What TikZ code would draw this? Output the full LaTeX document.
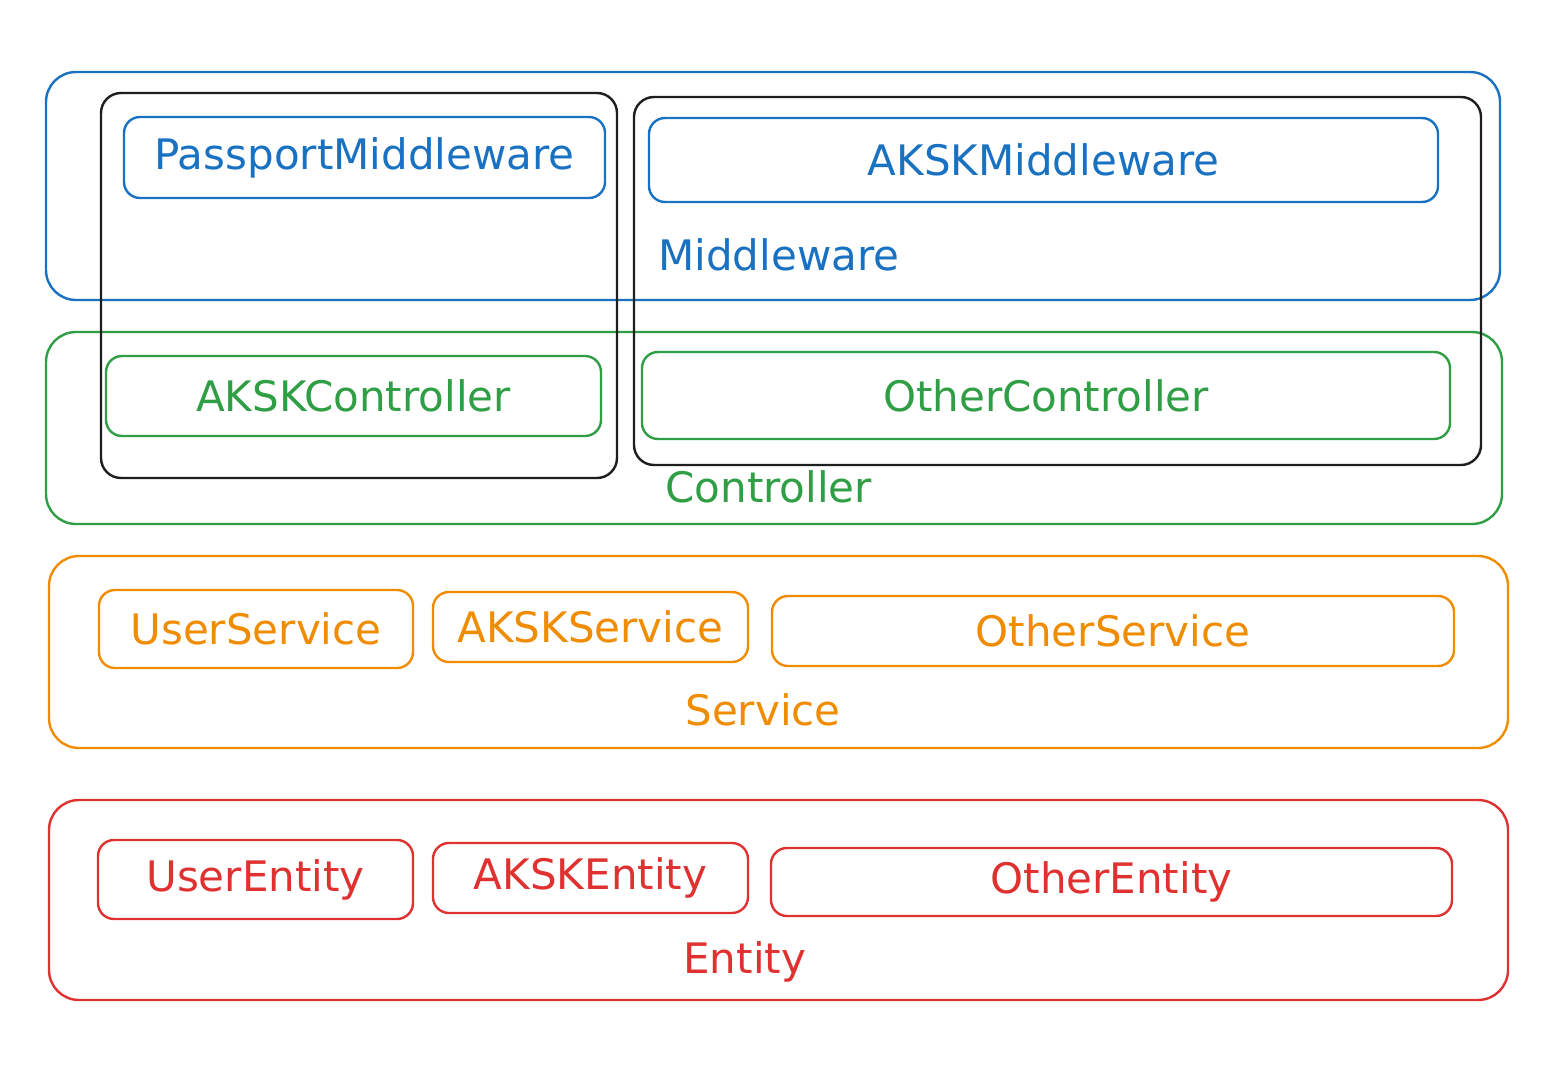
\documentclass[tikz,border=0pt]{standalone}
\usepackage{fontspec}
\setmainfont{DejaVu Sans}
\definecolor{cblue}{HTML}{1971C2}
\definecolor{cgreen}{HTML}{2F9E44}
\definecolor{corange}{HTML}{F08C00}
\definecolor{cred}{HTML}{E03131}
\definecolor{cblack}{HTML}{1E1E1E}
\begin{document}
\begin{tikzpicture}[x=0.5pt,y=-0.5pt,
  outer/.style={draw, line width=1.2pt, rounded corners=15pt, inner sep=0pt},
  frame/.style={draw=cblack, line width=1.2pt, rounded corners=10pt, inner sep=0pt},
  item/.style={draw, line width=1.2pt, rounded corners=8pt, inner sep=0pt, font=\fontsize{21}{24}\selectfont},
  lab/.style={anchor=west, inner sep=0pt, font=\fontsize{21}{24}\selectfont}]
\useasboundingbox[fill=white] (0,0) rectangle (1564,1070);
% Middleware layer
\node[outer, draw=cblue, minimum width=727pt, minimum height=114pt] (mw) at (773,186) {};
\node[lab, text=cblue] (mwlab) at (658,255) {Middleware};
% Controller layer
\node[outer, draw=cgreen, minimum width=728pt, minimum height=96pt] (ctl) at (774,428) {};
\node[lab, text=cgreen] (ctllab) at (665,487) {Controller};
% black groupings
\node[frame, minimum width=258pt, minimum height=192.5pt] (gl) at (359,285.5) {};
\node[frame, minimum width=423.5pt, minimum height=184pt] (gr) at (1057.5,281) {};
% middleware items
\node[item, draw=cblue, text=cblue, minimum width=240.5pt, minimum height=40.5pt] (pm) at (364.5,157.5) {PassportMiddleware};
\node[item, draw=cblue, text=cblue, minimum width=394.5pt, minimum height=42pt] (am) at (1043.5,160) {AKSKMiddleware};
% controller items
\node[item, draw=cgreen, text=cgreen, minimum width=247.5pt, minimum height=40pt] (ac) at (353.5,396) {AKSKController};
\node[item, draw=cgreen, text=cgreen, minimum width=404pt, minimum height=43.5pt] (oc) at (1046,395.5) {OtherController};
% Service layer
\node[outer, draw=corange, minimum width=729.5pt, minimum height=96pt] (svc) at (778.5,652) {};
\node[lab, text=corange] (svclab) at (685,710) {Service};
\node[item, draw=corange, text=corange, minimum width=157pt, minimum height=39pt] (us) at (256,629) {UserService};
\node[item, draw=corange, text=corange, minimum width=157.5pt, minimum height=35pt] (as) at (590.5,627) {AKSKService};
\node[item, draw=corange, text=corange, minimum width=341pt, minimum height=35pt] (os) at (1113,631) {OtherService};
% Entity layer
\node[outer, draw=cred, minimum width=729.5pt, minimum height=100pt] (ent) at (778.5,900) {};
\node[lab, text=cred] (entlab) at (683,962) {Entity};
\node[item, draw=cred, text=cred, minimum width=157.5pt, minimum height=39.5pt] (ue) at (255.5,879.5) {UserEntity};
\node[item, draw=cred, text=cred, minimum width=157.5pt, minimum height=35pt] (ae) at (590.5,878) {AKSKEntity};
\node[item, draw=cred, text=cred, minimum width=340.5pt, minimum height=34pt] (oe) at (1111.5,882) {OtherEntity};
\end{tikzpicture}
\end{document}
